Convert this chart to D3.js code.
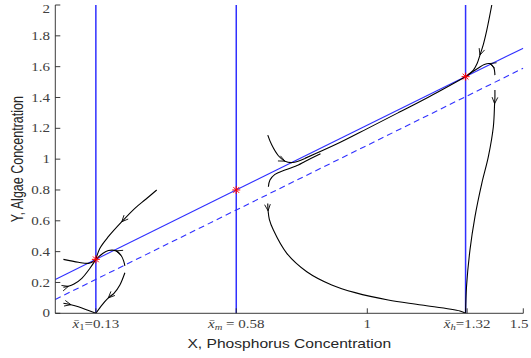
<!DOCTYPE html>
<html><head><meta charset="utf-8">
<script src="https://cdn.jsdelivr.net/npm/d3@7"></script>
<style>html,body{margin:0;padding:0;background:#fff;}</style>
</head><body>
<script>
// ---------- data ----------
const xTicks = [0.13, 0.58, 1, 1.32, 1.5];
const xTickLabels = ["x̄_1=0.13", "x̄_m = 0.58", "1", "x̄_h=1.32", "1.5"];
const yTicks = [0, 0.2, 0.4, 0.6, 0.8, 1, 1.2, 1.4, 1.6, 1.8, 2];
const yTickLabels = ["0", "0.2", "0.4", "0.6", "0.8", "1", "1.2", "1.4", "1.6", "1.8", "2"];
const equilibriaX = [0.13, 0.58, 1.315];
const equilibriaY = [0.35, 0.80, 1.535];
const solidNullcline = [[0, 0.22], [1.5, 1.72]];
const dashedNullcline = [[0, 0.09], [1.5, 1.59]];
// trajectories (ordered along flow); arrow = index of arrowhead point
const trajA = [[0.325,0.80],[0.29,0.74],[0.255,0.681],[0.213,0.594],[0.170,0.497],[0.143,0.422],[0.13,0.35]];
const trajB = [[0.026,0.169],[0.042,0.175],[0.060,0.19],[0.085,0.227],[0.111,0.292],[0.13,0.35]];
const trajC = [[0.026,0.350],[0.074,0.331],[0.106,0.324],[0.122,0.336],[0.13,0.35]];
const trajD = [[0.223,0.307],[0.219,0.340],[0.210,0.378],[0.195,0.405],[0.170,0.407],[0.150,0.385],[0.13,0.35]];
const trajE = [[0.223,0.263],[0.207,0.184],[0.188,0.130],[0.170,0.100],[0.150,0.055],[0.13,0]];
const trajF = [[0.026,0.065],[0.050,0.056],[0.074,0.043],[0.13,0]];
const trajG = [[0.681,1.156],[0.694,1.091],[0.715,1.022],[0.736,0.987],[0.760,0.978],[0.80,1.005]];
const trajH = [[0.683,0.821],[0.688,0.864],[0.704,0.901],[0.736,0.929],[0.779,0.962],[0.80,0.985],[0.85,1.035]];
const trajMain = [[0.80,1.005],[0.9,1.096],[1.0,1.198],[1.1,1.302],[1.2,1.407],[1.315,1.535]];
const trajI = [[0.681,0.713],[0.682,0.665],[0.686,0.610],[0.699,0.540],[0.742,0.389],[0.806,0.270],[0.886,0.184],[0.961,0.134],[1.067,0.086],[1.174,0.054],[1.297,0.015],[1.315,0.0]];
const trajJ = [[1.399,2.0],[1.383,1.837],[1.372,1.745],[1.361,1.675],[1.352,1.620],[1.340,1.578],[1.315,1.535]];
const trajK = [[1.409,1.545],[1.405,1.595],[1.392,1.620],[1.375,1.614],[1.355,1.590],[1.329,1.556],[1.315,1.535]];
const trajL = [[1.409,1.448],[1.409,1.40],[1.408,1.36],[1.404,1.21],[1.388,1.016],[1.367,0.843],[1.345,0.626],[1.329,0.41],[1.318,0.173],[1.315,0.0]];
const trajectories = [
  {pts: trajA, arrow: 3}, {pts: trajB, arrow: 1}, {pts: trajC, arrow: -1},
  {pts: trajD, arrow: 3}, {pts: trajE, arrow: 3}, {pts: trajF, arrow: 1},
  {pts: trajG, arrow: 3}, {pts: trajH, arrow: -1}, {pts: trajMain, arrow: -1},
  {pts: trajI, arrow: 1}, {pts: trajJ, arrow: 3}, {pts: trajK, arrow: 2},
  {pts: trajL, arrow: 2}
];

// ---------- layout ----------
const W = 531, H = 358;
const stretch = 1.25;
const x = d3.scaleLinear().domain([0, 1.5]).range([55.3, 523.3]);
const y = d3.scaleLinear().domain([0, 2]).range([313.3, 5]);

const svg = d3.select("body").append("svg").attr("width", W).attr("height", H)
  .style("font-family", "'Liberation Sans', Arial, sans-serif");

svg.append("defs").append("clipPath").attr("id", "clip")
  .append("rect").attr("x", x(0)).attr("y", y(2)).attr("width", x(1.5) - x(0)).attr("height", y(0) - y(2));

const plot = svg.append("g").attr("clip-path", "url(#clip)");
const blue = "#3030ff";

// nullclines
const lineGen = d3.line().x(d => x(d[0])).y(d => y(d[1]));
plot.append("path").datum(solidNullcline).attr("d", lineGen)
  .attr("fill", "none").attr("stroke", blue).attr("stroke-width", 1.1);
plot.append("path").datum(dashedNullcline).attr("d", lineGen)
  .attr("fill", "none").attr("stroke", blue).attr("stroke-width", 1.1).attr("stroke-dasharray", "6,4");
plot.selectAll("line.vert").data(equilibriaX).join("line").attr("class", "vert")
  .attr("x1", d => x(d)).attr("x2", d => x(d)).attr("y1", y(0)).attr("y2", y(2))
  .attr("stroke", blue).attr("stroke-width", 1.5);

// trajectories
const curve = d3.line().x(d => x(d[0])).y(d => y(d[1])).curve(d3.curveCatmullRom.alpha(0.5));
plot.selectAll("path.traj").data(trajectories).join("path").attr("class", "traj")
  .attr("d", d => curve(d.pts)).attr("fill", "none").attr("stroke", "#000").attr("stroke-width", 1.1);

// arrowheads (open V)
trajectories.filter(t => t.arrow >= 0).forEach(t => {
  const i = t.arrow, p = t.pts;
  const a = p[Math.max(0, i - 1)], b = p[Math.min(p.length - 1, i + 1)];
  const tx = x(p[i][0]), ty = y(p[i][1]);
  const ang = Math.atan2(y(b[1]) - y(a[1]), x(b[0]) - x(a[0]));
  const L = 7, spread = 0.42;
  [ -spread, spread ].forEach(s => {
    plot.append("line").attr("x1", tx).attr("y1", ty)
      .attr("x2", tx - L * Math.cos(ang + s)).attr("y2", ty - L * Math.sin(ang + s))
      .attr("stroke", "#000").attr("stroke-width", 0.9);
  });
});

// equilibria (red asterisks)
const eq = equilibriaX.map((d, i) => [d, equilibriaY[i]]);
const star = plot.selectAll("g.star").data(eq).join("g").attr("class", "star")
  .attr("transform", d => `translate(${x(d[0])},${y(d[1])})`);
const r = 4;
[[-r,0,r,0],[0,-r,0,r],[-r*0.72,-r*0.72,r*0.72,r*0.72],[-r*0.72,r*0.72,r*0.72,-r*0.72]].forEach(s => {
  star.append("line").attr("x1", s[0]).attr("y1", s[1]).attr("x2", s[2]).attr("y2", s[3])
    .attr("stroke", "#ff0000").attr("stroke-width", 1);
});

// axes
const axisColor = "#262626";
svg.append("line").attr("x1", x(0)).attr("x2", x(0)).attr("y1", y(0)).attr("y2", y(2))
  .attr("stroke", axisColor).attr("stroke-width", 0.9);
svg.append("line").attr("x1", x(0)).attr("x2", x(1.5)).attr("y1", y(0)).attr("y2", y(0))
  .attr("stroke", axisColor).attr("stroke-width", 0.9);
svg.selectAll("line.yt").data(yTicks).join("line").attr("class", "yt")
  .attr("x1", x(0)).attr("x2", x(0) + 5).attr("y1", d => y(d)).attr("y2", d => y(d))
  .attr("stroke", axisColor).attr("stroke-width", 0.9);
svg.selectAll("line.xt").data(xTicks).join("line").attr("class", "xt")
  .attr("x1", d => x(d)).attr("x2", d => x(d)).attr("y1", y(0)).attr("y2", y(0) - 5)
  .attr("stroke", axisColor).attr("stroke-width", 0.9);

const tickFont = "'Liberation Serif', 'DejaVu Serif', serif";
const tickColor = "#404040";
// keep the top label and the right-most label inside the page
svg.selectAll("text.ytl").data(yTicks).join("text").attr("class", "ytl")
  .attr("transform", d => `translate(50,${Math.max(y(d), 8.5)}) scale(${stretch},1)`)
  .attr("dy", "0.34em").attr("text-anchor", "end")
  .style("font-family", tickFont).style("font-size", "12px").attr("fill", tickColor)
  .text((d, i) => yTickLabels[i]);

const xt = svg.selectAll("text.xtl").data(xTicks).join("text").attr("class", "xtl")
  .attr("transform", d => `translate(${Math.min(x(d), 519)},327.5) scale(${stretch},1)`)
  .attr("text-anchor", "middle")
  .style("font-family", tickFont).style("font-size", "12px").attr("fill", tickColor);
xt.each(function(d, i) {
  const lab = xTickLabels[i];
  const el = d3.select(this);
  if (lab.includes("_")) {
    const [base, rest] = lab.split("_");
    el.append("tspan").style("font-style", "italic").text(base);
    el.append("tspan").style("font-size", "8.5px").attr("dy", 2.5)
      .style("font-style", /[a-z]/.test(rest[0]) ? "italic" : "normal").text(rest[0]);
    el.append("tspan").attr("dy", -2.5).text(rest.slice(1));
  } else {
    el.text(lab);
  }
});

// axis labels
svg.append("text").attr("transform", `translate(${(x(0) + x(1.5)) / 2},348) scale(${stretch},1)`)
  .attr("text-anchor", "middle").style("font-size", "12.5px").attr("fill", "#262626")
  .text("X, Phosphorus Concentration");
svg.append("text").attr("transform", `translate(22.5,${(y(0) + y(2)) / 2}) scale(${stretch},1) rotate(-90)`)
  .attr("text-anchor", "middle").style("font-size", "12.5px").attr("fill", "#262626")
  .text("Y, Algae Concentration");
</script>
</body></html>
